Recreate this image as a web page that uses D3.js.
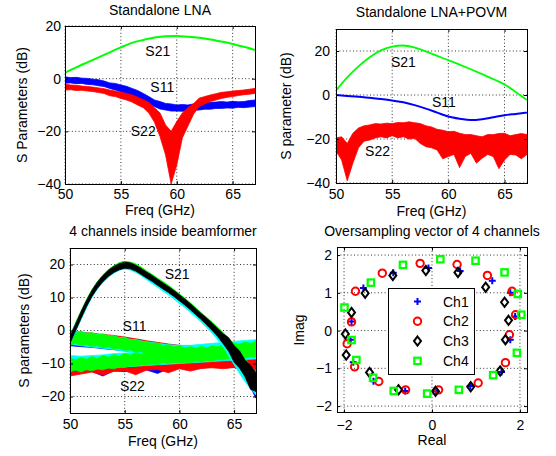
<!DOCTYPE html>
<html>
<head>
<meta charset="utf-8">
<script src="https://cdn.jsdelivr.net/npm/d3@7"></script>
<style>
body { margin: 0; background: #fff; }
svg text { font-family: "Liberation Sans", Arial, Helvetica, sans-serif; font-size: 14px; fill: #000; }
.grid { stroke: #333; stroke-width: 1; stroke-dasharray: 1,2.4; }
.box { fill: none; stroke: #000; stroke-width: 1; shape-rendering: crispEdges; }
</style>
</head>
<body>
<svg id="chart" width="556" height="456"></svg>
<script>
// frequency grids (GHz)
var freqOne = [50, 51, 52, 53, 54, 55, 56, 57, 58, 59, 60, 61, 62, 63, 64, 65, 66, 67];
var freqHalf = [50, 50.5, 51, 51.5, 52, 52.5, 53, 53.5, 54, 54.5, 55, 55.5, 56, 56.5, 57, 57.5, 58, 58.5,
                59, 59.5, 60, 60.5, 61, 61.5, 62, 62.5, 63, 63.5, 64, 64.5, 65, 65.5, 66, 66.5, 67];

// Standalone LNA (dB)
var lnaS21 = [2.3, 4.3, 6.2, 8.1, 10.0, 11.9, 13.6, 14.7, 15.6, 16.1, 16.2, 15.9, 15.5, 14.9, 14.1, 13.2, 12.1, 10.9];
var lnaS11Hi = [0.7, 0.4, 0.5, 0.2, 0.1, -0.2, -0.4, -0.9, -1.6, -1.8, -2.4, -2.9, -3.7, -4.5, -5.6, -6.8, -8.1, -8.7,
                -9.4, -9.6, -10.0, -9.8, -10.0, -9.6, -9.4, -9.2, -9.0, -8.9, -8.7, -8.9, -8.6, -8.8, -8.7, -8.3, -8.1];
var lnaS11Lo = [-1.7, -1.6, -1.9, -1.8, -2.2, -2.3, -2.7, -3.0, -3.7, -4.3, -5.0, -5.7, -6.5, -7.6, -8.7, -9.8, -10.6, -11.5,
                -11.9, -12.3, -12.3, -12.4, -12.2, -12.0, -11.9, -11.6, -11.6, -11.3, -11.3, -11.1, -11.2, -10.9, -11.0, -10.8, -10.6];
var lnaS22Hi = [-2.1, -2.4, -2.5, -2.8, -3.0, -3.2, -3.5, -3.8, -4.3, -4.7, -5.2, -5.6, -6.2, -7.0, -8.0, -9.0, -11.0, -13.0,
                -17.6, -20.0, -16.3, -13.0, -11.0, -9.5, -7.4, -6.8, -6.2, -5.7, -5.2, -5.0, -4.7, -4.5, -4.3, -4.0, -3.7];
var lnaS22Lo = [-4.3, -4.2, -4.5, -4.4, -4.7, -4.9, -5.3, -5.6, -6.5, -6.8, -7.5, -8.1, -8.9, -10.0, -11.0, -13.0, -16.5, -22.0,
                -29.0, -40.0, -32.8, -22.5, -18.0, -13.5, -10.6, -9.6, -8.7, -8.1, -7.5, -7.1, -6.8, -6.4, -6.1, -5.9, -5.6];

// Standalone LNA+POVM (dB)
var povmS21 = [2.0, 8.0, 13.0, 17.2, 20.3, 22.0, 22.5, 21.5, 19.8, 17.8, 15.8, 13.8, 11.7, 9.5, 7.2, 4.8, 1.4, -2.3];
var povmS11 = [0.0, -0.4, -0.8, -1.3, -1.8, -2.5, -3.3, -4.6, -6.2, -8.0, -9.8, -10.8, -11.4, -11.0, -10.1, -9.2, -8.6, -8.0];
var povmS22Hi = [-19.5, -19.0, -22.0, -17.4, -15.0, -14.0, -13.6, -13.0, -13.2, -12.8, -13.0, -12.5, -12.6, -12.2, -12.6, -13.0, -14.0, -14.5,
                 -15.6, -16.0, -16.7, -16.5, -17.4, -18.0, -18.0, -18.5, -19.0, -18.0, -18.0, -17.5, -17.4, -18.5, -18.0, -17.5, -18.0];
var povmS22Lo = [-25.5, -29.5, -39.0, -31.0, -24.0, -21.0, -20.5, -19.5, -19.0, -19.5, -18.5, -19.5, -19.0, -20.0, -19.7, -22.0, -23.5, -24.0,
                 -25.0, -29.0, -28.0, -27.0, -33.0, -28.0, -26.5, -31.0, -28.8, -27.0, -28.0, -33.5, -29.5, -27.0, -27.3, -29.0, -27.0];

// 4 channels inside beamformer (dB)
var bfS21BlueHi = [-1.6, 5.7, 12.2, 16.7, 19.5, 20.8, 19.9, 17.8, 15.6, 13.4, 10.9, 8.2, 5.2, 2.3, -0.9, -4.5, -9.0, -13.0];
var bfS21BlueLo = [-4.0, 3.5, 10.2, 14.7, 17.5, 18.8, 17.9, 15.8, 13.6, 11.4, 8.9, 6.2, 3.2, -0.2, -4.2, -9.8, -14.5, -20.5];
var bfS21CyanHi = [-2.4, 5.1, 11.6, 16.1, 18.9, 20.2, 19.3, 17.2, 15.0, 12.8, 10.3, 7.6, 4.6, 1.6, -1.6, -5.0, -8.8, -12.5];
var bfS21CyanLo = [-4.2, 3.3, 10.0, 14.5, 17.3, 18.6, 17.6, 15.4, 13.1, 10.8, 8.2, 5.5, 2.5, -0.9, -5.0, -10.4, -15.5, -19.5];
var bfS21GreenHi = [-1.7, 5.8, 12.3, 16.8, 19.6, 20.9, 20.2, 18.1, 15.9, 13.7, 11.1, 8.4, 5.4, 2.5, -0.6, -4.2, -8.7, -12.5];
var bfS21GreenLo = [-3.4, 4.1, 10.8, 15.3, 18.1, 19.4, 18.5, 16.4, 14.2, 12.0, 9.5, 6.8, 3.8, 0.5, -3.5, -8.0, -13.0, -17.0];
var bfS21BlackHi = [-1.9, 1.8, 5.6, 9.0, 12.1, 14.6, 16.6, 18.2, 19.4, 20.2, 20.7, 20.5, 19.8, 18.8, 17.7, 16.7, 15.5, 14.4,
                    13.3, 12.1, 10.8, 9.5, 8.1, 6.6, 5.1, 3.7, 2.2, 0.6, -1.0, -2.2, -4.6, -6.2, -9.0, -10.5, -12.8];
var bfS21BlackLo = [-3.9, -0.1, 3.6, 7.2, 10.3, 12.8, 14.8, 16.4, 17.6, 18.4, 18.9, 18.7, 18.0, 17.0, 15.9, 14.9, 13.7, 12.6,
                    11.5, 10.3, 9.0, 7.7, 6.3, 4.8, 3.3, 1.7, 0.0, -1.8, -4.0, -6.3, -9.6, -11.4, -14.0, -17.8, -18.5];

var bfS11RedHi = [-0.2, -0.5, -0.8, -1.2, -1.5, -2.0, -2.5, -3.1, -3.6, -4.1, -4.5, -4.7, -4.7, -4.5, -4.3, -4.1, -3.9, -3.6];
var bfS11RedLo = [-4.0, -4.2, -4.5, -4.8, -5.2, -5.6, -6.0, -6.5, -7.0, -7.4, -7.8, -8.0, -8.1, -8.1, -8.0, -7.8, -7.6, -7.4];
var bfS11BlueHi = [-0.5, -0.8, -1.0, -1.4, -1.8, -2.3, -2.8, -3.3, -3.8, -4.3, -4.6, -4.8, -4.8, -4.6, -4.4, -4.1, -3.8, -3.5];
var bfS11BlueLo = [-4.6, -4.9, -5.1, -5.5, -5.8, -6.2, -6.6, -7.0, -7.5, -8.0, -8.4, -8.6, -8.7, -8.6, -8.4, -8.2, -8.0, -7.8];
var bfS11CyanHi = [-0.3, -0.6, -0.9, -1.3, -1.8, -2.4, -2.9, -3.4, -3.9, -4.3, -4.5, -4.5, -4.2, -3.9, -3.6, -3.3, -3.0, -2.8];
var bfS11CyanLo = [-4.2, -4.6, -5.0, -5.4, -5.8, -6.3, -6.8, -7.2, -7.6, -8.0, -8.3, -8.5, -8.5, -8.3, -8.0, -7.8, -7.5, -7.2];
var bfS11GreenHi = [-0.4, -0.9, -0.2, -1.0, -0.6, -1.4, -1.0, -1.6, -1.5, -2.2, -2.0, -2.9, -2.6, -3.4, -3.2, -4.0, -3.7, -4.6,
                    -4.3, -5.0, -4.6, -5.3, -4.9, -5.4, -4.8, -5.3, -4.6, -5.0, -4.2, -4.6, -3.8, -4.2, -3.5, -3.9, -3.2];
var bfS11GreenLo = [-4.4, -3.9, -4.6, -4.3, -4.8, -4.6, -5.2, -4.9, -5.6, -5.4, -6.0, -5.9, -6.6, -6.4, -7.1, -6.9, -7.6, -7.4,
                    -8.0, -7.8, -8.4, -8.0, -8.6, -8.2, -8.7, -8.3, -8.8, -8.4, -8.6, -8.2, -8.4, -7.9, -8.0, -7.6, -7.7];

var bfS22RedHi = [-10.5, -10.5, -10.2, -10.0, -9.8, -9.6, -9.5, -9.3, -9.2, -9.0, -9.0, -8.8, -8.7, -8.5, -8.4, -8.2, -8.0, -8.0];
var bfS22RedLo = [-13.8, -13.2, -12.6, -13.5, -12.4, -12.2, -13.4, -12.0, -11.8, -12.8, -11.6, -12.3, -11.5, -11.3, -11.6, -11.2, -12.8, -12.0];
var bfS22BlueHi = [-11.0, -11.0, -10.8, -10.5, -10.3, -10.0, -10.0, -9.8, -9.5, -9.4, -9.2, -9.0, -9.0, -8.8, -8.6, -8.5, -8.4, -8.2];
var bfS22BlueLo = [-13.0, -12.6, -12.4, -13.8, -12.2, -12.5, -11.8, -12.0, -13.0, -11.6, -11.4, -11.3, -11.4, -11.0, -10.8, -11.2, -12.5, -12.0];
var bfS22CyanHi = [-7.6, -7.8, -7.6, -7.4, -7.0, -6.8, -6.6, -6.3, -6.1, -5.9, -5.8, -5.6, -5.3, -5.0, -4.7, -4.2, -3.8, -3.5];
var bfS22CyanLo = [-12.0, -11.8, -11.6, -11.4, -11.2, -11.0, -10.8, -10.6, -10.4, -10.2, -10.0, -9.8, -9.6, -9.4, -9.2, -9.0, -8.8, -8.6];
var bfS22GreenHi = [-8.4, -8.9, -8.2, -8.7, -7.9, -8.5, -7.6, -8.1, -7.3, -7.8, -7.0, -7.4, -6.8, -7.2, -6.5, -7.0, -6.3, -6.8,
                    -6.2, -6.6, -6.0, -6.5, -5.9, -6.3, -5.6, -6.0, -5.4, -5.8, -5.0, -5.4, -4.7, -5.1, -4.4, -4.8, -4.1];
var bfS22GreenLo = [-12.5, -12.0, -12.6, -11.9, -12.2, -11.7, -11.9, -11.4, -11.6, -11.1, -11.2, -10.7, -10.9, -10.4, -10.5, -10.1, -10.3, -9.8,
                    -10.0, -9.7, -9.9, -9.6, -9.8, -9.4, -9.5, -9.1, -9.2, -8.8, -8.9, -8.5, -8.6, -8.2, -8.3, -7.9, -8.0];

// Oversampling vectors (real, imag)
var ch1Re = [-0.08, 0.64, 1.37, 1.78, 1.89, 1.78, 1.58, 0.87, 0.08, -0.61, -1.33, -1.79, -1.85, -1.83, -1.56, -0.88];
var ch1Im = [1.66, 1.58, 1.32, 1.00, 0.37, -0.24, -1.10, -1.47, -1.60, -1.60, -1.34, -0.84, -0.24, 0.24, 1.13, 1.53];
var ch2Re = [-1.74, -1.13, -0.27, 0.57, 1.26, 1.82, 1.90, 1.76, 1.67, 1.05, 0.15, -0.60, -1.21, -1.76, -1.93, -1.83];
var ch2Im = [1.04, 1.52, 1.78, 1.75, 1.46, 1.04, 0.42, -0.11, -0.85, -1.39, -1.57, -1.57, -1.35, -0.96, -0.35, 0.23];
var ch3Re = [-1.52, -0.89, -0.14, 0.59, 1.22, 1.65, 1.74, 1.67, 1.55, 0.88, 0.08, -0.76, -1.42, -1.95, -1.97, -1.83];
var ch3Im = [0.99, 1.46, 1.59, 1.54, 1.15, 0.75, 0.27, -0.24, -1.07, -1.49, -1.61, -1.57, -1.11, -0.65, -0.09, 0.48];
var ch4Re = [-1.99, -1.83, -1.72, -1.34, -0.87, -0.11, 0.61, 1.39, 1.93, 2.03, 1.95, 1.65, 0.99, 0.19, -0.66, -1.39];
var ch4Im = [0.61, -0.25, -0.78, -1.25, -1.60, -1.67, -1.57, -1.18, -0.59, 0.42, 0.97, 1.54, 1.85, 1.89, 1.74, 1.27];
var channelNames = ["Ch1", "Ch2", "Ch3", "Ch4"];

// ticks
var freqTicks = [50, 55, 60, 65];
var lnaTicks = [-40, -20, 0, 20];
var bfTicks = [-20, -10, 0, 10, 20];
var reTicks = [-2, 0, 2];
var imTicks = [-2, -1, 0, 1, 2];

var svg = d3.select("#chart");
var defs = svg.append("defs");
var fmt = d3.format("d");

function draw_band(plot, x, y, freq, lo, hi, colour, curve) {
    var rows = freq.map(function(f, i) { return [f, lo[i], hi[i]]; });
    plot.append("path").datum(rows)
        .attr("d", d3.area()
            .curve(curve || d3.curveLinear)
            .x(function(d) { return x(d[0]); })
            .y0(function(d) { return y(d[1]); })
            .y1(function(d) { return y(d[2]); }))
        .attr("fill", colour)
        .attr("stroke", colour)
        .attr("stroke-width", 0.8);
}

function draw_line(plot, x, y, freq, vals, colour, width) {
    var rows = freq.map(function(f, i) { return [f, vals[i]]; });
    plot.append("path").datum(rows)
        .attr("d", d3.line()
            .curve(d3.curveMonotoneX)
            .x(function(d) { return x(d[0]); })
            .y(function(d) { return y(d[1]); }))
        .attr("fill", "none")
        .attr("stroke", colour)
        .attr("stroke-width", width);
}

function draw_notes(plot, x, y, notes) {
    plot.selectAll("text.note").data(notes).enter().append("text")
        .attr("class", "note")
        .attr("text-anchor", "middle")
        .attr("x", function(d) { return x(d[1]); })
        .attr("y", function(d) { return y(d[2]); })
        .text(function(d) { return d[0]; });
}

function make_panel(p) {
    var x = d3.scaleLinear().domain(p.xDomain).range([p.left, p.right]);
    var y = d3.scaleLinear().domain(p.yDomain).range([p.bottom, p.top]);
    var g = svg.append("g");

    defs.append("clipPath").attr("id", "clip-" + p.id)
        .append("rect")
        .attr("x", p.left).attr("y", p.top)
        .attr("width", p.right - p.left).attr("height", p.bottom - p.top);

    g.append("g").selectAll("line").data(p.xTicks).enter().append("line")
        .attr("class", "grid")
        .attr("x1", function(d) { return x(d); })
        .attr("x2", function(d) { return x(d); })
        .attr("y1", p.top).attr("y2", p.bottom);
    g.append("g").selectAll("line").data(p.yTicks).enter().append("line")
        .attr("class", "grid")
        .attr("x1", p.left).attr("x2", p.right)
        .attr("y1", function(d) { return y(d); })
        .attr("y2", function(d) { return y(d); });

    var plot = g.append("g").attr("clip-path", "url(#clip-" + p.id + ")");
    p.draw(plot, x, y);

    function no_domain(a) { a.select(".domain").remove(); }
    g.append("g").attr("transform", "translate(0," + p.bottom + ")")
        .call(d3.axisBottom(x).tickValues(p.xTicks).tickSize(-3).tickPadding(p.xPad).tickFormat(fmt))
        .call(no_domain);
    g.append("g").attr("transform", "translate(0," + p.top + ")")
        .call(d3.axisTop(x).tickValues(p.xTicks).tickSize(-3).tickFormat(""))
        .call(no_domain);
    g.append("g").attr("transform", "translate(" + p.left + ",0)")
        .call(d3.axisLeft(y).tickValues(p.yTicks).tickSize(-3).tickPadding(p.yPad).tickFormat(fmt))
        .call(no_domain);
    g.append("g").attr("transform", "translate(" + p.right + ",0)")
        .call(d3.axisRight(y).tickValues(p.yTicks).tickSize(-3).tickFormat(""))
        .call(no_domain);

    g.append("rect").attr("class", "box")
        .attr("x", p.left).attr("y", p.top)
        .attr("width", p.right - p.left).attr("height", p.bottom - p.top);

    var cx = (p.left + p.right) / 2;
    var cy = (p.top + p.bottom) / 2;
    g.append("text").attr("text-anchor", "middle")
        .attr("x", cx).attr("y", p.titleY).text(p.title);
    g.append("text").attr("text-anchor", "middle")
        .attr("x", cx).attr("y", p.bottom + p.xLabelGap).text(p.xLabel);
    g.append("text").attr("text-anchor", "middle")
        .attr("transform", "translate(" + (p.left - p.yLabelGap) + "," + cy + ") rotate(-90)")
        .text(p.yLabel);
}

make_panel({
    id: "lna", left: 65, right: 255, top: 26, bottom: 184,
    xDomain: [50, 67], yDomain: [-40, 20], xTicks: freqTicks, yTicks: lnaTicks,
    xPad: 5, yPad: 4, title: "Standalone LNA", titleY: 15,
    xLabel: "Freq (GHz)", xLabelGap: 30.5, yLabel: "S Parameters (dB)", yLabelGap: 38,
    draw: function(plot, x, y) {
        draw_line(plot, x, y, freqOne, lnaS21, "#00ff00", 2);
        draw_band(plot, x, y, freqHalf, lnaS11Lo, lnaS11Hi, "#0000ff");
        draw_band(plot, x, y, freqHalf, lnaS22Lo, lnaS22Hi, "#ff0000");
        draw_notes(plot, x, y, [["S21", 58.3, 8.6], ["S11", 58.7, -5.1], ["S22", 57.0, -21.8]]);
    }
});

make_panel({
    id: "povm", left: 336, right: 527, top: 29, bottom: 183,
    xDomain: [50, 67], yDomain: [-40, 30], xTicks: freqTicks, yTicks: lnaTicks,
    xPad: 6.5, yPad: 6, title: "Standalone LNA+POVM", titleY: 17,
    xLabel: "Freq (GHz)", xLabelGap: 32.5, yLabel: "S parameter (dB)", yLabelGap: 45,
    draw: function(plot, x, y) {
        draw_line(plot, x, y, freqOne, povmS21, "#00ff00", 1.8);
        draw_line(plot, x, y, freqOne, povmS11, "#0000ff", 2);
        draw_band(plot, x, y, freqHalf, povmS22Lo, povmS22Hi, "#ff0000");
        draw_notes(plot, x, y, [["S21", 56.0, 12.7], ["S11", 59.6, -5.5], ["S22", 53.7, -27.7]]);
    }
});

make_panel({
    id: "bf", left: 70, right: 256, top: 248, bottom: 413,
    xDomain: [50, 67], yDomain: [-25, 25], xTicks: freqTicks, yTicks: bfTicks,
    xPad: 6, yPad: 5, title: "4 channels inside beamformer", titleY: 236,
    xLabel: "Freq (GHz)", xLabelGap: 32.5, yLabel: "S parameters (dB)", yLabelGap: 41,
    draw: function(plot, x, y) {
        draw_band(plot, x, y, freqOne, bfS22BlueLo, bfS22BlueHi, "#0000ff");
        draw_band(plot, x, y, freqOne, bfS22RedLo, bfS22RedHi, "#ff0000");
        draw_band(plot, x, y, freqOne, bfS11BlueLo, bfS11BlueHi, "#0000ff");
        draw_band(plot, x, y, freqOne, bfS11RedLo, bfS11RedHi, "#ff0000");
        draw_band(plot, x, y, freqOne, bfS22CyanLo, bfS22CyanHi, "#00ffff");
        draw_band(plot, x, y, freqOne, bfS11CyanLo, bfS11CyanHi, "#00ffff");
        draw_band(plot, x, y, freqHalf, bfS22GreenLo, bfS22GreenHi, "#00ff00");
        draw_band(plot, x, y, freqHalf, bfS11GreenLo, bfS11GreenHi, "#00ff00");
        draw_band(plot, x, y, freqOne, bfS21BlueLo, bfS21BlueHi, "#0000ff", d3.curveMonotoneX);
        draw_band(plot, x, y, freqOne, bfS21CyanLo, bfS21CyanHi, "#00ffff", d3.curveMonotoneX);
        draw_band(plot, x, y, freqOne, bfS21GreenLo, bfS21GreenHi, "#00ff00", d3.curveMonotoneX);
        draw_band(plot, x, y, freqHalf, bfS21BlackLo, bfS21BlackHi, "#000000");
        draw_notes(plot, x, y, [["S21", 59.8, 15.6], ["S11", 55.9, -0.15], ["S22", 55.7, -18.3]]);
    }
});

function draw_marker(sel, k) {
    if (k === 0) {
        sel.append("path").attr("d", "M-3.5,0H3.5M0,-3.5V3.5")
            .attr("stroke", "#0000ff").attr("stroke-width", 2).attr("fill", "none");
    } else if (k === 1) {
        sel.append("circle").attr("r", 3.7)
            .attr("stroke", "#ff0000").attr("stroke-width", 2).attr("fill", "none");
    } else if (k === 2) {
        sel.append("path").attr("d", "M0,-4.6L3.5,0L0,4.6L-3.5,0Z")
            .attr("stroke", "#000000").attr("stroke-width", 2).attr("fill", "none");
    } else {
        sel.append("rect").attr("x", -3.2).attr("y", -3.2).attr("width", 6.4).attr("height", 6.4)
            .attr("stroke", "#00ff00").attr("stroke-width", 2.2).attr("fill", "none");
    }
}

make_panel({
    id: "iq", left: 337, right: 527, top: 247.5, bottom: 412.5,
    xDomain: [-2.16, 2.16], yDomain: [-2.17, 2.2], xTicks: reTicks, yTicks: imTicks,
    xPad: 7.5, yPad: 5, title: "Oversampling vector of 4 channels", titleY: 236,
    xLabel: "Real", xLabelGap: 32, yLabel: "Imag", yLabelGap: 33,
    draw: function(plot, x, y) {
        var chans = [[ch1Re, ch1Im], [ch2Re, ch2Im], [ch3Re, ch3Im], [ch4Re, ch4Im]];
        chans.forEach(function(c, k) {
            var pts = c[0].map(function(re, i) { return [re, c[1][i]]; });
            plot.append("g").selectAll("g").data(pts).enter().append("g")
                .attr("transform", function(d) { return "translate(" + x(d[0]) + "," + y(d[1]) + ")"; })
                .each(function() { draw_marker(d3.select(this), k); });
        });
    }
});

// legend of the oversampling panel
var legend = svg.append("g").attr("transform", "translate(388,288)");
legend.append("rect").attr("class", "box").attr("width", 86).attr("height", 86).style("fill", "#fff");
channelNames.forEach(function(name, k) {
    var row = legend.append("g").attr("transform", "translate(0," + (13.5 + k * 19.8) + ")");
    draw_marker(row.append("g").attr("transform", "translate(29.5,0)"), k);
    row.append("text").attr("x", 55).attr("y", 5).text(name);
});
</script>
</body>
</html>
